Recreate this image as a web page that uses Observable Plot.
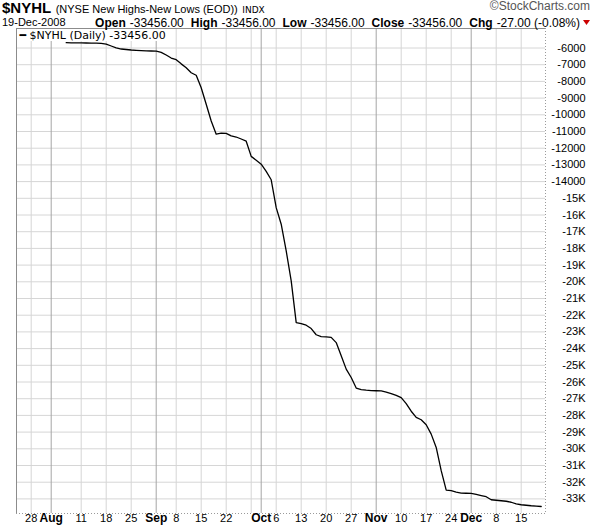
<!DOCTYPE html>
<html>
<head>
<meta charset="utf-8">
<script src="https://cdn.jsdelivr.net/npm/d3@7"></script>
<script src="https://cdn.jsdelivr.net/npm/@observablehq/plot@0.6"></script>
<style>
  body { margin: 0; background: #fff; }
  #wrap { position: relative; width: 600px; height: 530px; font-family: Arial, "Liberation Sans", sans-serif; color: #000; }
  .hdr { position: absolute; white-space: nowrap; }
  #chart { position: absolute; left: 0; top: 0; }
  .lbl { font-weight: bold; font-size: 12px; margin-left: 7px; }
  .val { font-size: 12px; margin-left: 4px; }
</style>
</head>
<body>
<div id="wrap">
  <div id="chart"></div>
  <div class="hdr" id="line1" style="left:2px; top:0px; line-height:16px;"></div>
  <div class="hdr" id="copy" style="right:10px; top:0px; height:12px; line-height:12px; font-size:12px; color:#555;"></div>
  <div class="hdr" id="date" style="left:2px; top:16px; line-height:12px; font-size:11px;"></div>
  <div class="hdr" id="stats" style="right:9px; top:16px; height:11px; line-height:11px;"></div>
</div>
<script>
// ---------- header text ----------
const symbol = "$NYHL";
const description = "(NYSE New Highs-New Lows (EOD))";
const exchange = "INDX";
const copyright = "\u00A9StockCharts.com";
const asOfDate = "19-Dec-2008";
const statLabels = ["Open", "High", "Low", "Close", "Chg"];
const statValues = ["-33456.00", "-33456.00", "-33456.00", "-33456.00", "-27.00 (-0.08%)"];
const legendLabel = "$NYHL (Daily)";
const lastValue = "-33456.00";

// ---------- calendar ----------
const firstAxisDay = "2008-07-28";
const lastDay = "2008-12-19";
const holidays = ["2008-09-01", "2008-11-27"];
const firstDataDay = "2008-08-06";

// ---------- series values (daily closes, Aug 6 .. Dec 19 2008) ----------
const values = [
  -5683, -5690, -5690, -5695, -5700, -5705, -5710, -5720, -5770, -5880,
  -5990, -6060, -6090, -6120, -6140, -6160, -6175, -6180, -6185, -6260,
  -6420, -6600, -6700, -6950, -7180, -7480, -7630, -8380, -9370, -10370,
  -11160, -11100, -11110, -11260, -11330, -11450, -11580, -12490, -12720, -12960,
  -13390, -13890, -15560, -16550, -18150, -19940, -22440, -22500, -22600, -22800,
  -23170, -23280, -23300, -23330, -23640, -24430, -25230, -25730, -26360, -26450,
  -26490, -26520, -26525, -26530, -26600, -26690, -26800, -26930, -27300, -27750,
  -28120, -28260, -28560, -29120, -29920, -31310, -32470, -32510, -32590, -32650,
  -32660, -32670, -32730, -32800, -32870, -33050, -33080, -33110, -33140, -33200,
  -33300, -33350, -33380, -33410, -33430, -33456
];

// ---------- ticks ----------
const yTicks = [-6000, -7000, -8000, -9000, -10000, -11000, -12000, -13000, -14000,
  -15000, -16000, -17000, -18000, -19000, -20000, -21000, -22000, -23000, -24000,
  -25000, -26000, -27000, -28000, -29000, -30000, -31000, -32000, -33000];
const weekGridDates = ["2008-07-28", "2008-08-11", "2008-08-18", "2008-08-25", "2008-09-08",
  "2008-09-15", "2008-09-22", "2008-09-29", "2008-10-06", "2008-10-13", "2008-10-20",
  "2008-10-27", "2008-11-10", "2008-11-17", "2008-11-24", "2008-12-08", "2008-12-15"];
const weekLabels = ["28", "11", "18", "25", "8", "15", "22", "", "6", "13", "20", "27",
  "10", "17", "24", "8", "15"];
const monthDates = ["2008-08-01", "2008-09-02", "2008-10-01", "2008-11-03", "2008-12-01"];
const monthLabels = ["Aug", "Sep", "Oct", "Nov", "Dec"];

// ---------- build header ----------
document.getElementById("line1").innerHTML =
  `<span style="font-weight:bold;font-size:15px">${symbol}</span> ` +
  `<span style="font-size:11px">${description}</span> ` +
  `<span style="font-family:'DejaVu Sans';font-size:9px">${exchange}</span>`;
document.getElementById("copy").textContent = copyright;
document.getElementById("date").textContent = asOfDate;
document.getElementById("stats").innerHTML =
  statLabels.map((l, k) => `<span class="lbl">${l}</span><span class="val">${statValues[k]}</span>`).join("") +
  `<svg width="8" height="6" style="margin-left:3px;vertical-align:1px"><polygon points="0,0 7,0 3.5,5" fill="#cc0000"/></svg>`;

// ---------- trading-day index ----------
const fmt = d3.utcFormat("%Y-%m-%d");
const tradingDays = d3.utcDays(new Date(firstAxisDay), d3.utcDay.offset(new Date(lastDay), 1))
  .filter(d => d.getUTCDay() !== 0 && d.getUTCDay() !== 6 && !holidays.includes(fmt(d)));
const dayIndex = new Map(tradingDays.map((d, i) => [fmt(d), i]));
const start = dayIndex.get(firstDataDay);
const series = values.map((v, k) => ({i: start + k, v}));
const weekTicks = weekGridDates.map((d, k) => ({i: dayIndex.get(d), label: weekLabels[k]}));
const monthTicks = monthDates.map((d, k) => ({i: dayIndex.get(d), label: monthLabels[k]}));

const xDomain = [-2.94, dayIndex.get(lastDay) + 0.86];
const yDomain = [-33874, -4832];
const yFmt = v => Math.abs(v) >= 15000 ? `-${Math.abs(v) / 1000}K` : String(v);
const legendText = `\u2501 ${legendLabel} ${lastValue}`;
const legendFont = "11px 'DejaVu Sans'";

// white box behind the legend (hides grid, drawn below the data line)
function legendBox(index, scales, values, dimensions) {
  const ctx = document.createElement("canvas").getContext("2d");
  ctx.font = legendFont;
  const w = ctx.measureText(legendText).width + 6;
  const r = document.createElementNS("http://www.w3.org/2000/svg", "rect");
  r.setAttribute("x", dimensions.marginLeft + 1);
  r.setAttribute("y", dimensions.marginTop + 1);
  r.setAttribute("width", w);
  r.setAttribute("height", 12);
  r.setAttribute("fill", "#fff");
  return r;
}

const chart = Plot.plot({
  width: 600,
  height: 530,
  marginTop: 28,
  marginBottom: 17,
  marginLeft: 16,
  marginRight: 55,
  style: {fontFamily: "Arial, 'Liberation Sans', sans-serif", fontSize: "11px", background: "transparent", color: "#000"},
  x: {domain: xDomain, axis: null, label: null},
  y: {domain: yDomain, axis: null, label: null},
  marks: [
    Plot.ruleY(yTicks, {stroke: "#d6d6d6", strokeWidth: 1}),
    Plot.ruleX(weekTicks, {x: "i", stroke: "#d6d6d6", strokeWidth: 1}),
    Plot.ruleX(monthTicks, {x: "i", stroke: "#a6a6a6", strokeWidth: 1}),
    legendBox,
    Plot.ruleX([xDomain[0]], {stroke: "#8c8c8c"}),
    Plot.ruleY([yDomain[1]], {stroke: "#8c8c8c"}),
    Plot.ruleX([xDomain[1]], {stroke: "#9a9a9a", strokeDasharray: "1,2"}),
    Plot.ruleY([yDomain[0]], {stroke: "#9a9a9a", strokeDasharray: "1,2"}),
    Plot.line(series, {x: "i", y: "v", stroke: "#000", strokeWidth: 1.3}),
    Plot.text([legendText], {text: d => d, frameAnchor: "top-left", dx: 3, dy: 7, lineAnchor: "middle",
      fontFamily: "DejaVu Sans", fontSize: 11, fill: "#000"}),
    Plot.axisY(yTicks, {anchor: "right", tickSize: 3, stroke: "#aaa", fill: "#000", textAnchor: "end", dx: 31,
      tickFormat: yFmt, fontSize: 11, label: null}),
    Plot.text(weekTicks, {x: "i", text: "label", frameAnchor: "bottom", dy: 8, fontSize: 11, fill: "#000"}),
    Plot.text(monthTicks, {x: "i", text: "label", frameAnchor: "bottom", dy: 8, fontSize: 12, fontWeight: "bold", fill: "#000"})
  ]
});
document.getElementById("chart").appendChild(chart);
</script>
</body>
</html>
